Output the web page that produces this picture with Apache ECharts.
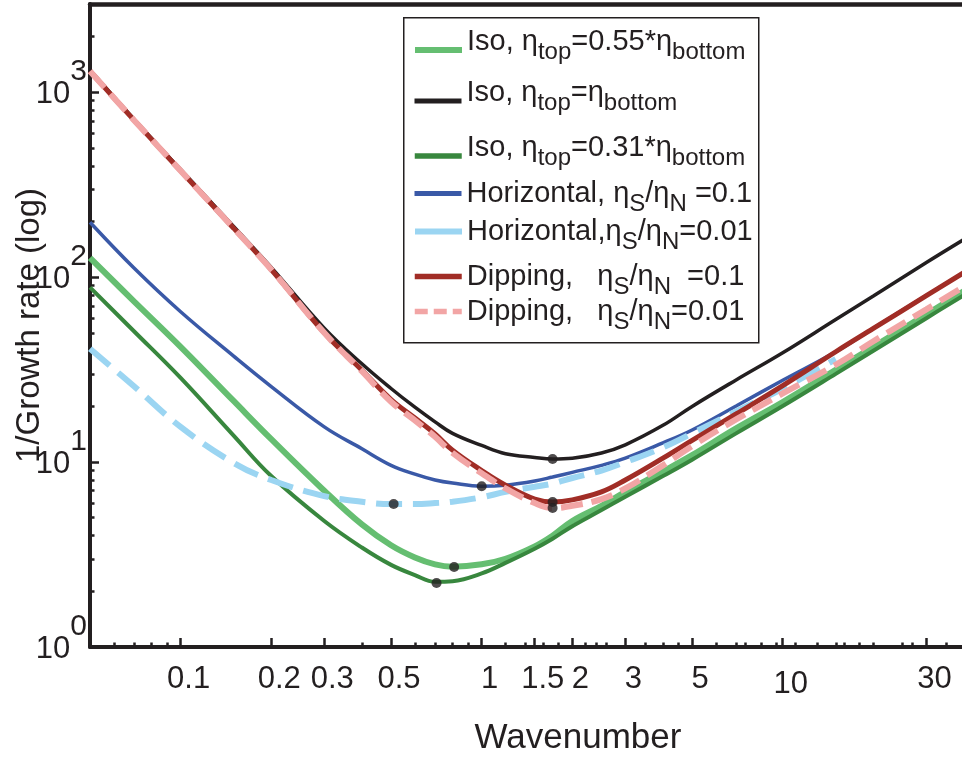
<!DOCTYPE html>
<html>
<head>
<meta charset="utf-8">
<script src="https://cdn.jsdelivr.net/npm/echarts@6/dist/echarts.min.js"></script>
<style>
html,body{margin:0;padding:0;background:#fff;}
#chart{width:962px;height:757px;}
</style>
</head>
<body>
<div id="chart"></div>
<script>
// ---------------- data ----------------
const kGrid = [0.05, 0.07, 0.1, 0.15, 0.2, 0.3, 0.4, 0.5, 0.6, 0.7, 0.8, 1.0, 1.2, 1.5, 1.72, 2, 2.5, 3, 4, 5, 7, 10, 15, 20, 30, 40];

const isoTop055 = [127, 74, 42, 21.4, 13.3, 7.0, 4.6, 3.55, 3.05, 2.8, 2.72, 2.8, 3.0, 3.5, 4.0, 4.8, 5.8, 6.9, 8.9, 10.9, 15.2, 21.1, 31.5, 42, 63, 84];
const isoEqual   = [1320, 715, 382, 188, 113, 53, 34, 25, 19.8, 16.5, 14.3, 12.3, 11.1, 10.6, 10.4, 10.5, 11.2, 12.4, 15.8, 20.0, 27.8, 39, 59, 79, 120, 160];
const isoTop031  = [88, 51, 28.5, 13.9, 8.4, 4.8, 3.45, 2.78, 2.45, 2.25, 2.27, 2.5, 2.85, 3.4, 3.85, 4.5, 5.5, 6.5, 8.4, 10.3, 14.3, 20.1, 30, 40, 60, 80];
const horiz01    = [198, 112, 65, 37.4, 25.6, 15.5, 11.8, 9.6, 8.6, 8.0, 7.7, 7.4, 7.5, 7.9, 8.3, 8.8, 9.6, 10.5, 12.7, 14.9, 20.1, 27.7, 39.5, 53, 79.5, 106];
const horiz001   = [41, 25.7, 15.5, 9.9, 8.0, 6.55, 6.1, 5.93, 5.93, 6.0, 6.1, 6.45, 6.9, 7.35, 7.65, 8.2, 9.0, 10.0, 12.0, 14.3, 18.8, 25, 36, null, null, null];
const dip01      = [1300, 706, 376, 184, 110, 50, 31.4, 21.8, 17.3, 14.2, 11.6, 9.0, 7.5, 6.3, 6.08, 6.25, 6.9, 8.0, 10.5, 13.1, 18.2, 25.9, 39.5, 52.8, 79.4, 106];
const dip001     = [1300, 706, 376, 184, 110, 50, 31, 21.2, 16.8, 13.7, 11.2, 8.7, 7.2, 6.0, 5.64, 5.8, 6.3, 7.2, 9.6, 12.2, 17.0, 23.5, 33.6, 45, 67, 89];

// minima markers (same order as series)
const minK = [0.81, 1.72, 0.708, 1.0, 0.51, 1.72, 1.72];
const minV = [2.71, 10.4, 2.22, 7.4, 5.93, 6.08, 5.64];

const seriesNames = [
  'Iso, η_top=0.55*η_bottom',
  'Iso, η_top=η_bottom',
  'Iso, η_top=0.31*η_bottom',
  'Horizontal, η_S/η_N =0.1',
  'Horizontal,η_S/η_N=0.01',
  'Dipping,   η_S/η_N  =0.1',
  'Dipping,   η_S/η_N=0.01'
];
const legendRich = [
  'Iso, η{s|top}=0.55*η{s|bottom}',
  'Iso, η{s|top}=η{s|bottom}',
  'Iso, η{s|top}=0.31*η{s|bottom}',
  'Horizontal, η{s|S}/η{s|N} =0.1',
  'Horizontal,η{s|S}/η{s|N}=0.01',
  'Dipping,   η{s|S}/η{s|N}  =0.1',
  'Dipping,   η{s|S}/η{s|N}=0.01'
];

const xTickLabels = [0.1, 0.2, 0.3, 0.5, 1, 1.5, 2, 3, 5, 10, 30];
const xMinorTicks = [0.06, 0.07, 0.08, 0.09, 0.4, 0.6, 0.7, 0.8, 0.9, 1.2, 1.4, 1.6, 1.8, 2.2, 2.4, 2.6, 3.5, 4, 4.5, 6, 7, 7.5, 8.5, 9.5, 11, 13, 15, 16, 18, 20, 25, 27, 35];
const yTickLabels = [1, 10, 100, 1000];
const yMinorTicks = [2,3,4,5,6,7,8,9,20,30,40,50,60,70,80,90,200,300,400,500,600,700,800,900,2000,3000];

// ---------------- styles ----------------
const INK = '#231f20';
const FONT = '"Liberation Sans", Arial, Helvetica, sans-serif';
const colors = ['#65be71', '#231f20', '#38873e', '#3a59a7', '#9bd5f2', '#a12d26', '#f2a5a5'];
const widths = [6, 3.5, 4, 3.5, 6, 5, 6];
const legendWidths = [6, 5, 5.5, 5, 6, 5.5, 5.5];
const dashes = ['solid', 'solid', 'solid', 'solid', [26, 11], 'solid', [22, 9]];
const valueSets = [isoTop055, isoEqual, isoTop031, horiz01, horiz001, dip01, dip001];
const legendCenters = [49, 100, 155, 201, 239, 284, 319];
const legendTextPad = [17, 17, 17, 0, 0, 0, 0];

const X_MIN = 0.05, X_MAX = 40, Y_MIN = 1, Y_MAX = 3000;

const series = valueSets.map((vals, i) => ({
  name: seriesNames[i],
  type: 'line',
  xAxisIndex: 0, yAxisIndex: 0,
  data: kGrid.map((k, j) => vals[j] == null ? null : [k, vals[j]]).filter(d => d),
  symbol: 'none',
  smooth: 0.4,
  lineStyle: { color: colors[i], width: widths[i], type: dashes[i], cap: 'butt' },
  itemStyle: { color: colors[i] },
  z: 2 + i * 0.01
}));
series.push({
  name: 'minima',
  type: 'scatter',
  data: minK.map((k, i) => [k, minV[i]]),
  symbolSize: 10,
  itemStyle: { color: INK },
  z: 5
});

const legends = seriesNames.map((n, i) => ({
  data: [n],
  left: 412,
  top: legendCenters[i] - 22,
  padding: 0,
  itemWidth: 47,
  itemHeight: 14,
  itemGap: 0,
  itemStyle: { opacity: 0 },
  lineStyle: {
    width: legendWidths[i],
    color: colors[i],
    type: i === 6 ? [13, 6] : 'solid'
  },
  selectedMode: false,
  formatter: () => legendRich[i],
  textStyle: {
    fontFamily: FONT, fontSize: 29, color: INK,
    padding: [0, 0, legendTextPad[i], 0],
    rich: { s: { fontFamily: FONT, fontSize: 24, color: INK, padding: [22, 0, 0, 0] } }
  },
  z: 10
}));

const fmtNum = v => String(+(+v).toPrecision(3));

const option = {
  animation: false,
  backgroundColor: '#fff',
  textStyle: { fontFamily: FONT },
  grid: { left: 90, top: 4, width: 874, height: 643, containLabel: false, outerBoundsMode: 'none' },
  legend: legends,
  graphic: [{
    type: 'rect', left: 403, top: 17, z: 1,
    shape: { width: 355, height: 325 },
    style: { fill: '#fff', stroke: INK, lineWidth: 1.5 }
  }],
  xAxis: [{
    type: 'log', logBase: 10, min: X_MIN, max: X_MAX, position: 'bottom',
    name: 'Wavenumber', nameLocation: 'middle', nameGap: 74,
    nameTextStyle: { fontFamily: FONT, fontSize: 35, color: INK, padding: [0, 0, 0, 102] },
    axisLine: { show: true, lineStyle: { color: INK, width: 4 } },
    axisTick: { show: true, inside: true, length: 9, customValues: xTickLabels, lineStyle: { color: INK, width: 2.5 } },
    axisLabel: {
      show: true, customValues: xTickLabels, showMinLabel: true, showMaxLabel: true,
      fontFamily: FONT, fontSize: 31, color: INK, margin: 17, padding: [0, 0, 0, 16],
      formatter: v => { const s = fmtNum(v); return s === '10' ? '{b|10}' : s; },
      rich: { b: { fontFamily: FONT, fontSize: 31, color: INK, padding: [5, 0, 0, 0] } }
    },
    splitLine: { show: false }, minorTick: { show: false }
  }, {
    type: 'log', logBase: 10, min: X_MIN, max: X_MAX, position: 'bottom',
    axisLine: { show: false },
    axisTick: { show: true, inside: true, length: 4.5, customValues: xMinorTicks, lineStyle: { color: INK, width: 2.5 } },
    axisLabel: { show: false },
    splitLine: { show: false }
  }, {
    type: 'log', logBase: 10, min: X_MIN, max: X_MAX, position: 'top',
    axisLine: { show: true, lineStyle: { color: INK, width: 4.5 } },
    axisTick: { show: false }, axisLabel: { show: false }, splitLine: { show: false }
  }],
  yAxis: [{
    type: 'log', logBase: 10, min: Y_MIN, max: Y_MAX, position: 'left',
    name: '1/Growth rate (log)', nameLocation: 'middle', nameGap: 44, nameRotate: 90,
    nameMoveOverlap: false,
    nameTextStyle: { fontFamily: FONT, fontSize: 33, color: INK },
    axisLine: { show: true, lineStyle: { color: INK, width: 4 } },
    axisTick: { show: true, inside: true, length: 9, customValues: yTickLabels, lineStyle: { color: INK, width: 2.5 } },
    axisLabel: {
      show: true, customValues: yTickLabels, showMinLabel: true, showMaxLabel: true,
      fontFamily: FONT, fontSize: 31, color: INK, margin: 3, padding: [4, 0, 0, 0],
      formatter: v => '10{sup|' + Math.round(Math.log10(v)) + '}',
      rich: { sup: { fontFamily: FONT, fontSize: 30, color: INK, padding: [0, 0, 44, 0] } }
    },
    splitLine: { show: false }
  }, {
    type: 'log', logBase: 10, min: Y_MIN, max: Y_MAX, position: 'left',
    axisLine: { show: false },
    axisTick: { show: true, inside: true, length: 4.5, customValues: yMinorTicks, lineStyle: { color: INK, width: 2.5 } },
    axisLabel: { show: false },
    splitLine: { show: false }
  }],
  series: series
};

const chart = echarts.init(document.getElementById('chart'), null, { renderer: 'canvas' });
chart.setOption(option);
</script>
</body>
</html>
